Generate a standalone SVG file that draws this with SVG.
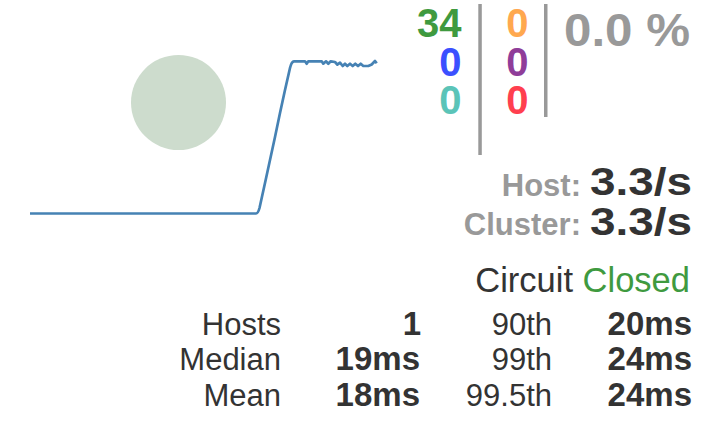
<svg xmlns="http://www.w3.org/2000/svg" width="720" height="434" viewBox="0 0 720 434">
<style>
text{font-family:"Liberation Sans",Arial,sans-serif}
.cnt{font-size:40px;font-weight:bold;text-anchor:end}
.lbl{font-size:31px;fill:#333;text-anchor:end}
.val{font-size:33px;font-weight:bold;fill:#333;text-anchor:end}
.rate{font-size:31px;font-weight:bold;fill:#999;text-anchor:end}
.rv{font-size:38px;font-weight:bold;fill:#333;text-anchor:end}
.bar{fill:#999}
</style>
<rect width="720" height="434" fill="#fff"/>
<g id="chart">
<circle cx="178.5" cy="102.5" r="47.5" fill="#cddccd"/>
<path d="M30,213.5 L256,213.5 Q258,213.5 259.5,208 L265,183 L270,160 L275,137 L280,113 L285,90 L290,68 Q291.5,61.5 294,61.3 L305,61.3 L306.7,63.7 L308.3,61.3 L321.7,61.3 L323.3,63.7 L326,61.3 L328.3,63.7 L330.7,61.3 L335,62 L337.3,64.7 L340,62.7 L342.7,66 L345,63.7 L347.3,66 L350,63.7 L352.7,66 L355.3,63.7 L358,66 L360.7,63.7 L363.3,66 L368.3,66 L371.7,64.5 L375,61 L376.7,63.3" fill="none" stroke="#4682b4" stroke-width="2.7" stroke-linejoin="round"/>
</g>
<g id="counts">
<text class="cnt" x="461.5" y="37" fill="#3f9a3f">34</text>
<text class="cnt" x="461.5" y="76" fill="#3b50ff">0</text>
<text class="cnt" x="461.5" y="114" fill="#5bc4b8">0</text>
<rect class="bar" x="478.3" y="4" width="3.5" height="151"/>
<text class="cnt" x="528.5" y="37" fill="#ffa84f">0</text>
<text class="cnt" x="528.5" y="76" fill="#8f3d99">0</text>
<text class="cnt" x="528.5" y="114" fill="#ff3f4f">0</text>
<rect class="bar" x="544" y="4" width="3.5" height="113"/>
<text x="690" y="46" font-size="46" font-weight="bold" fill="#999" text-anchor="end" textLength="126" lengthAdjust="spacingAndGlyphs">0.0 %</text>
</g>
<g id="rates">
<text class="rate" x="581" y="196">Host:</text>
<text class="rv" x="692" y="195" textLength="102" lengthAdjust="spacingAndGlyphs">3.3/s</text>
<text class="rate" x="581" y="235">Cluster:</text>
<text class="rv" x="692" y="235" textLength="102" lengthAdjust="spacingAndGlyphs">3.3/s</text>
<text x="690" y="292" font-size="34.5" text-anchor="end"><tspan fill="#333">Circuit </tspan><tspan fill="#3f9a3f">Closed</tspan></text>
</g>
<g id="latency">
<text class="lbl" x="281" y="335">Hosts</text>
<text class="lbl" x="281" y="370">Median</text>
<text class="lbl" x="281" y="406">Mean</text>
<text class="val" x="421" y="335">1</text>
<text class="val" x="420" y="370">19ms</text>
<text class="val" x="420" y="406">18ms</text>
<text class="lbl" x="552" y="335">90th</text>
<text class="lbl" x="552" y="370">99th</text>
<text class="lbl" x="552" y="406">99.5th</text>
<text class="val" x="692" y="335">20ms</text>
<text class="val" x="692" y="370">24ms</text>
<text class="val" x="692" y="406">24ms</text>
</g>
</svg>
